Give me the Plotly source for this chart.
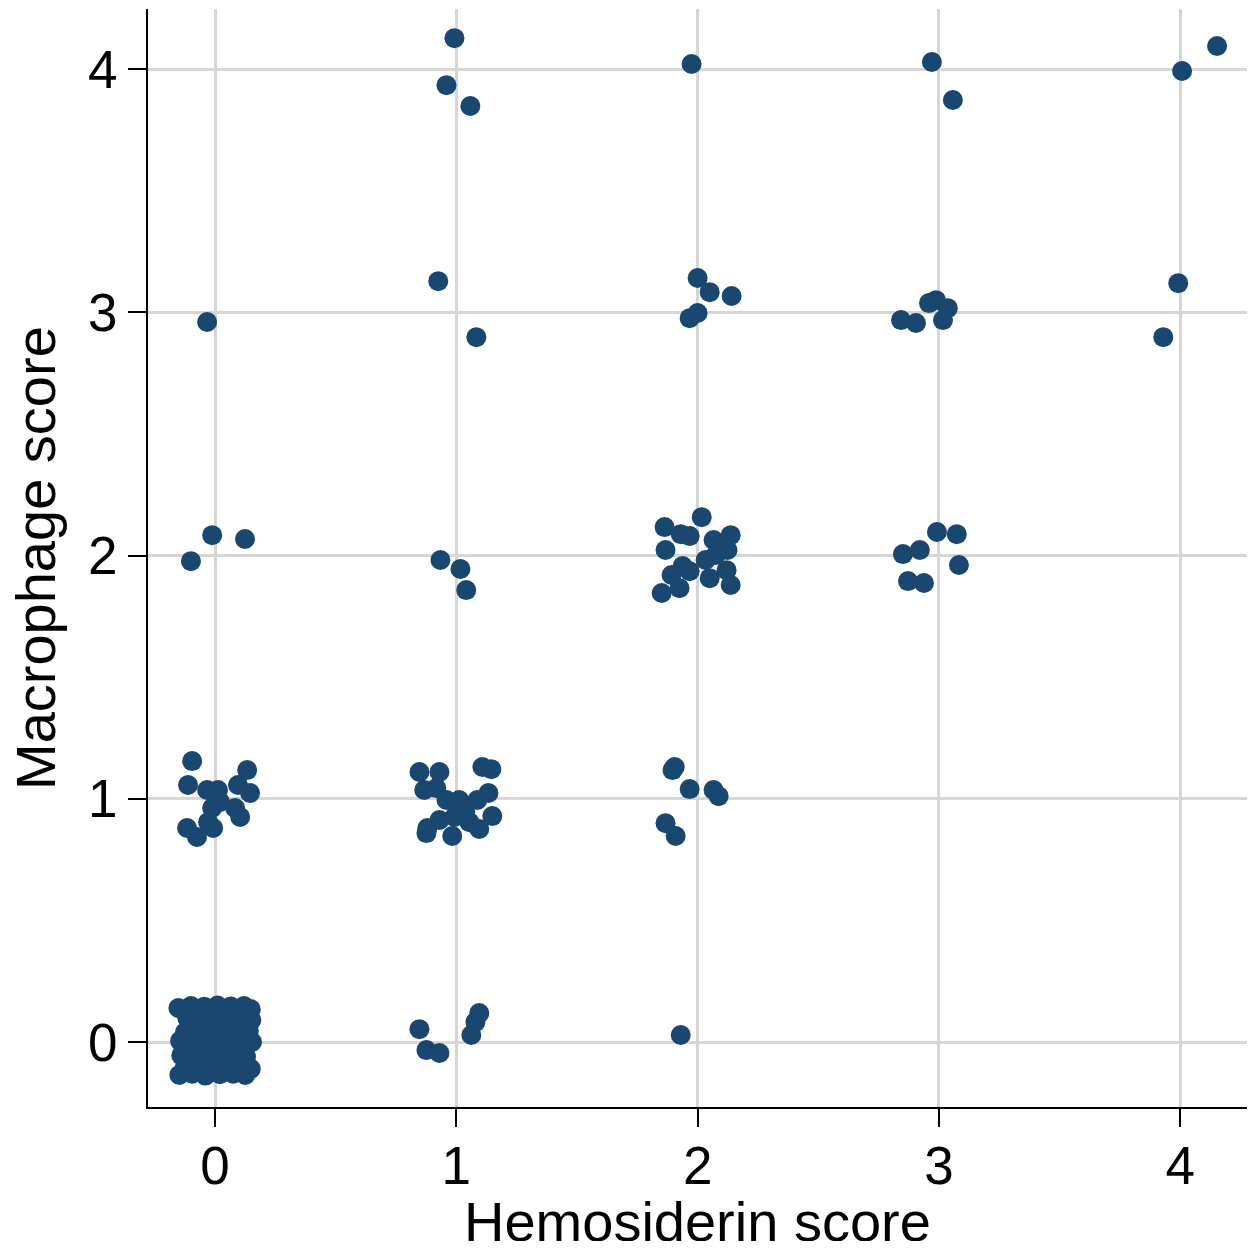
import plotly.graph_objects as go

# Jittered observations, grouped by hemosiderin score (x = hemosiderin, y = macrophage)
hemo0_x = [-0.152, -0.100, -0.045, 0.010, 0.065, 0.120, 0.148,
           -0.115, -0.060, 0.000, 0.050, 0.100, 0.150,
           -0.125, -0.075, -0.020, 0.030, 0.085, 0.140,
           -0.145, -0.095, -0.040, 0.015, 0.060, 0.110, 0.153,
           -0.140, -0.085, -0.030, 0.025, 0.075, 0.128,
           -0.125, -0.065, -0.005, 0.050, 0.100, 0.148,
           -0.148, -0.095, -0.040, 0.020, 0.075, 0.125,
           0.095, 0.133, -0.095, -0.112, -0.033, 0.012, 0.021, -0.012, 0.145,
           0.083, 0.104, -0.029, -0.008, -0.116, -0.075,
           -0.100, -0.012, 0.124, -0.033]
hemo0_y = [0.140, 0.148, 0.145, 0.150, 0.146, 0.148, 0.135,
           0.098, 0.090, 0.100, 0.095, 0.092, 0.090,
           0.040, 0.050, 0.045, 0.040, 0.050, 0.045,
           0.005, -0.005, 0.000, -0.010, 0.005, -0.005, 0.000,
           -0.055, -0.060, -0.050, -0.065, -0.055, -0.060,
           -0.100, -0.095, -0.105, -0.100, -0.095, -0.110,
           -0.135, -0.130, -0.138, -0.132, -0.130, -0.135,
           1.057, 1.118, 1.155, 1.057, 1.036, 1.036, 0.987, 0.962, 1.024,
           0.962, 0.925, 0.904, 0.880, 0.880, 0.843,
           1.977, 2.084, 2.068, 2.960]

hemo1_x = [0.992, 0.959, 1.058,
           0.925, 1.083,
           0.934, 1.017, 1.041,
           0.847, 0.930, 1.108, 1.145, 0.867, 0.917, 0.959, 1.012, 1.133, 1.087,
           0.930, 0.992, 1.037, 1.149, 0.880, 0.983, 1.095, 1.054, 0.876,
           0.847, 0.876, 0.930, 1.062, 1.079, 1.095]
hemo1_y = [4.127, 3.934, 3.848,
           3.128, 2.898,
           1.982, 1.945, 1.858,
           1.110, 1.110, 1.131, 1.122, 1.036, 1.044, 0.995, 0.995, 1.024, 0.995,
           0.913, 0.925, 0.946, 0.929, 0.880, 0.847, 0.876, 0.904, 0.859,
           0.053, -0.033, -0.045, 0.029, 0.082, 0.119]

hemo2_x = [1.975,
           2.000, 2.050, 2.141, 1.967, 2.000,
           1.863, 2.017, 1.930, 1.967, 2.066, 2.137, 1.867, 2.124, 2.075, 2.033,
           1.938, 1.892, 1.967, 2.120, 2.050, 2.137, 1.851, 1.925,
           1.896, 1.905, 1.967, 2.066, 2.087, 1.867, 1.909,
           1.930]
hemo2_y = [4.021,
           3.141, 3.083, 3.067, 2.976, 2.997,
           2.117, 2.158, 2.088, 2.080, 2.064, 2.084, 2.023, 2.023, 2.002, 1.982,
           1.957, 1.920, 1.936, 1.940, 1.907, 1.879, 1.846, 1.866,
           1.118, 1.131, 1.040, 1.036, 1.011, 0.900, 0.847,
           0.029]

hemo3_x = [2.971, 3.058,
           2.843, 2.905, 2.959, 2.988, 3.037, 3.017,
           2.992, 3.074, 2.851, 2.921, 3.083, 2.872, 2.938]
hemo3_y = [4.029, 3.873,
           2.968, 2.956, 3.038, 3.050, 3.017, 2.968,
           2.097, 2.088, 2.006, 2.023, 1.961, 1.895, 1.887]

hemo4_x = [4.153, 4.008, 3.992, 3.930]
hemo4_y = [4.095, 3.992, 3.120, 2.898]

tick_vals = [0, 1, 2, 3, 4]
tick_text = ["0", "1", "2", "3", "4"]

xs = hemo0_x + hemo1_x + hemo2_x + hemo3_x + hemo4_x
ys = hemo0_y + hemo1_y + hemo2_y + hemo3_y + hemo4_y

FONT = "Arial, Liberation Sans, sans-serif"

fig = go.Figure(go.Scatter(
    x=xs, y=ys, mode="markers",
    marker=dict(size=20, color="#1a476f", line=dict(width=0)),
    showlegend=False, hoverinfo="x+y"))

axis_common = dict(
    showgrid=True, gridcolor="#d6d6d6", gridwidth=3,
    zeroline=False, showline=True, linecolor="black", linewidth=2,
    ticks="outside", ticklen=18, tickwidth=2, tickcolor="black",
    tickvals=tick_vals, ticktext=tick_text,
    tickfont=dict(family=FONT, size=53, color="black"),
)

fig.update_layout(
    width=1241, height=1233,
    margin=dict(l=140, r=2, t=1, b=134, autoexpand=False),
    plot_bgcolor="white", paper_bgcolor="white",
    xaxis=dict(range=[-0.278, 4.277], ticklabelstandoff=-7, **axis_common),
    yaxis=dict(range=[-0.267, 4.247], ticklabelstandoff=0, **axis_common),
    annotations=[
        dict(text="Hemosiderin score", xref="paper", yref="paper", x=0.5, y=0,
             xanchor="center", yanchor="middle", yshift=-114, showarrow=False,
             font=dict(family=FONT, size=56, color="black")),
        dict(text="Macrophage score", xref="paper", yref="paper", x=0, y=0.5,
             xanchor="center", yanchor="middle", xshift=-113, showarrow=False,
             textangle=-90, font=dict(family=FONT, size=56, color="black")),
    ],
)

fig.write_html("out.html")
